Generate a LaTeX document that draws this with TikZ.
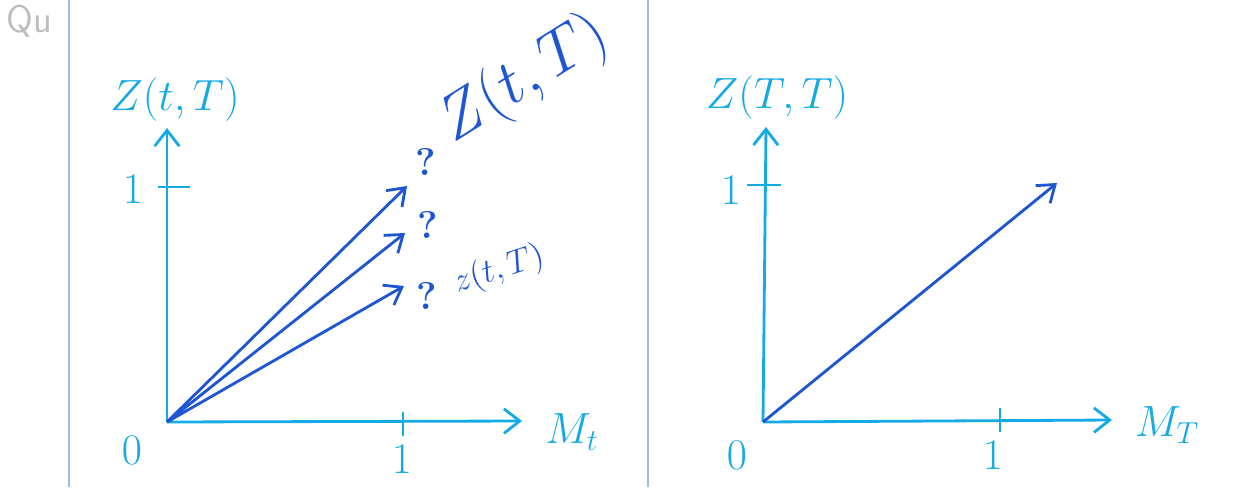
\documentclass[tikz,border=0pt]{standalone}
\usetikzlibrary{arrows.meta}
\definecolor{axiscol}{RGB}{20,170,230}
\definecolor{vecol}{RGB}{30,85,210}
\definecolor{framecol}{RGB}{150,190,230}
\definecolor{graytxt}{RGB}{190,190,190}
\tikzset{
  axis/.style={draw=axiscol, line width=1.6pt, -{Straight Barb[length=9pt,width=14pt,line width=1.6pt]}},
  vec/.style={draw=vecol, line width=1.6pt, -{Straight Barb[length=9pt,width=13pt,line width=1.6pt]}},
  tick/.style={draw=axiscol, line width=1.6pt},
  lab/.style={text=axiscol, font=\fontsize{24}{28}\selectfont, inner sep=0pt},
  qlab/.style={text=vecol, font=\fontsize{22}{26}\selectfont\bfseries, inner sep=0pt},
  frame/.style={draw=framecol, line width=1pt}
}
\begin{document}
\begin{tikzpicture}[x=0.02cm,y=-0.02cm]
\useasboundingbox (0,0) rectangle (1241,487);
% frame lines
\coordinate (f1t) at (69,0); \coordinate (f1b) at (69,487);
\coordinate (f2t) at (648,0); \coordinate (f2b) at (648,487);
\draw[frame] (f1t) -- (f1b);
\draw[frame] (f2t) -- (f2b);
\node[text=graytxt, font=\sffamily\fontsize{22}{24}\selectfont, inner sep=0pt] (qu) at (29,21) {Qu};
% left panel
\coordinate (o1) at (167,422);
\coordinate (y1) at (167,128);
\coordinate (x1) at (522,421);
\draw[axis] (o1) -- (y1);
\draw[axis] (o1) -- (x1);
\coordinate (ty1a) at (158,187); \coordinate (ty1b) at (190,187);
\draw[tick] (ty1a) -- (ty1b);
\coordinate (tx1a) at (403,412); \coordinate (tx1b) at (403,436);
\draw[tick] (tx1a) -- (tx1b);
\node[lab] (one1y) at (133,189) {$1$};
\node[lab] (one1x) at (402,459) {$1$};
\node[lab] (zero1) at (132,450) {$0$};
\node[lab] (zl1) at (175,100) {$Z(t,T)$};
\node[lab] (ml1) at (572,432) {$M_t$};
\coordinate (a1) at (407,186);
\coordinate (a2) at (405,233);
\coordinate (a3) at (404,286);
\draw[vec] (o1) -- (a1);
\draw[vec] (o1) -- (a2);
\draw[vec] (o1) -- (a3);
\node[qlab] (q1) at (426,162) {?};
\node[qlab] (q2) at (428,225) {?};
\node[qlab] (q3) at (427,296) {?};
\node[text=vecol, font=\fontsize{24}{28}\selectfont, inner sep=0pt, scale=1.45, rotate=32] (big) at (524,80) {$Z(t,T)$};
\node[text=vecol, font=\fontsize{12}{14}\selectfont, inner sep=0pt, scale=1.6, rotate=18] (small) at (499,270) {$z(t,T)$};
% right panel
\coordinate (o2) at (763,422);
\coordinate (y2) at (766,127);
\coordinate (x2) at (1112,420);
\draw[axis] (o2) -- (y2);
\draw[axis] (o2) -- (x2);
\coordinate (ty2a) at (747,185); \coordinate (ty2b) at (781,185);
\draw[tick] (ty2a) -- (ty2b);
\coordinate (tx2a) at (1000,408); \coordinate (tx2b) at (1000,432);
\draw[tick] (tx2a) -- (tx2b);
\node[lab] (one2y) at (731,190) {$1$};
\node[lab] (one2x) at (993,455) {$1$};
\node[lab] (zero2) at (737,455) {$0$};
\node[lab] (zl2) at (777,98) {$Z(T,T)$};
\node[lab] (ml2) at (1167,425) {$M_T$};
\coordinate (b1) at (1057,183);
\draw[vec] (o2) -- (b1);
\end{tikzpicture}
\end{document}
